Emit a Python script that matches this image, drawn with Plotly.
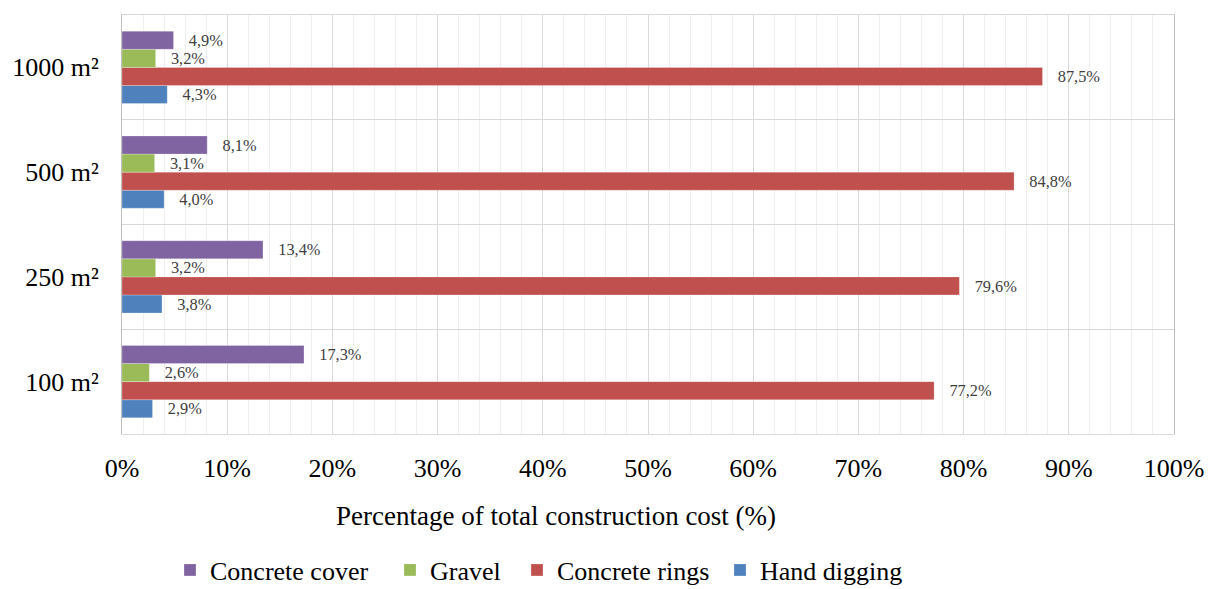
import plotly.graph_objects as go

categories = ["100 m²", "250 m²", "500 m²", "1000 m²"]
hand_digging = [2.9, 3.8, 4.0, 4.3]
concrete_rings = [77.2, 79.6, 84.8, 87.5]
gravel = [2.6, 3.2, 3.1, 3.2]
concrete_cover = [17.3, 13.4, 8.1, 4.9]

series = [
    ("Hand digging", hand_digging, "#4F81BD", "legend4"),
    ("Concrete rings", concrete_rings, "#C0504D", "legend3"),
    ("Gravel", gravel, "#9BBB59", "legend2"),
    ("Concrete cover", concrete_cover, "#8064A2", "legend"),
]

def fmt(v):
    return "\u00a0\u00a0\u00a0" + f"{v:.1f}".replace(".", ",") + "%"

fig = go.Figure()
for name, vals, color, lg in series:
    fig.add_trace(go.Bar(
        y=categories, x=vals, name=name, orientation="h", legend=lg,
        marker=dict(color=color, line=dict(color="rgba(255,255,255,0.5)", width=0.5)),
        text=[fmt(v) for v in vals], textposition="outside", cliponaxis=False,
        textfont=dict(family="Liberation Serif", size=19, color="#404040"),
    ))

W0, PW, PB, PH = 122, 1052, 434, 419
def px_x(p):
    return (p - W0) / PW
def px_y(p):
    return (PB - p) / PH

leg_common = dict(orientation="h", yanchor="middle", xanchor="left",
                  y=px_y(570), font=dict(size=26, color="#000000"),
                  itemwidth=30, bgcolor="rgba(0,0,0,0)")
legend_text_starts = [210, 430, 557, 760]

fig.update_layout(
    width=1212, height=589,
    margin=dict(l=122, r=38, t=15, b=155, autoexpand=False),
    paper_bgcolor="white", plot_bgcolor="white",
    barmode="group", bargap=0.31, bargroupgap=0,
    font=dict(family="Liberation Serif", size=26, color="#000000"),
    showlegend=True,
    legend=dict(x=px_x(legend_text_starts[0] - 40), **leg_common),
    legend2=dict(x=px_x(legend_text_starts[1] - 40), **leg_common),
    legend3=dict(x=px_x(legend_text_starts[2] - 40), **leg_common),
    legend4=dict(x=px_x(legend_text_starts[3] - 40), **leg_common),
    xaxis=dict(range=[0, 100], dtick=10, ticksuffix="%", showgrid=True,
               gridcolor="#d9d9d9", gridwidth=1, zeroline=False,
               showline=True, linecolor="#d9d9d9", mirror=True,
               ticks="", ticklabelstandoff=11,
               minor=dict(dtick=2, showgrid=True, gridcolor="#efefef", gridwidth=1),
               tickfont=dict(size=26), automargin=False),
    yaxis=dict(type="category", tickson="boundaries", showgrid=True,
               gridcolor="#d9d9d9", gridwidth=1, showline=True,
               linecolor="#bfbfbf", mirror=True, ticks="", ticklabelstandoff=17,
               tickfont=dict(size=26), automargin=False),
    annotations=[dict(text="Percentage of total construction cost (%)",
                      xref="paper", yref="paper", x=px_x(556), y=px_y(516),
                      xanchor="center", yanchor="middle", showarrow=False,
                      font=dict(size=27, color="#000000"))],
)

fig.write_html("out.html")
